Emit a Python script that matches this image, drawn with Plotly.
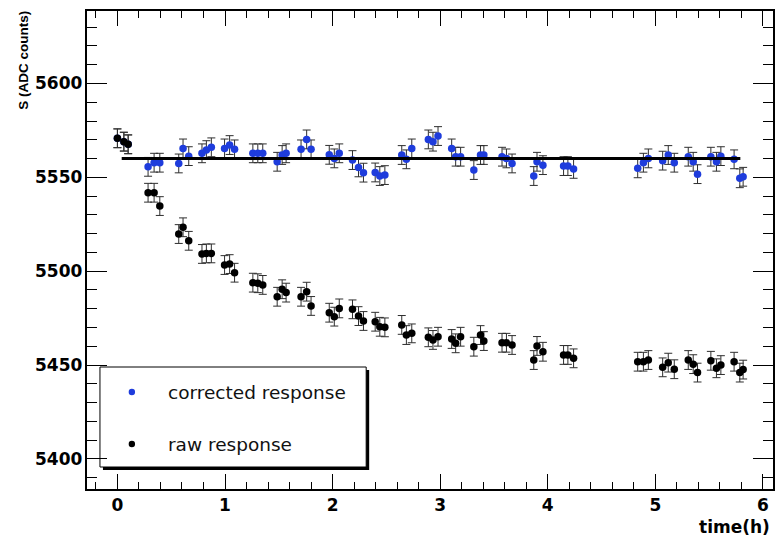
import plotly.graph_objects as go

# ---- data ----
time_h = [0.00, 0.06, 0.10, 0.285, 0.341, 0.394, 0.570, 0.610, 0.663, 0.786, 0.827, 0.873,
          0.996, 1.043, 1.089, 1.259, 1.305, 1.351, 1.485, 1.531, 1.568, 1.707, 1.759, 1.800,
          1.969, 2.016, 2.062, 2.185, 2.241, 2.287, 2.396, 2.439, 2.486, 2.643, 2.686, 2.736,
          2.890, 2.933, 2.980, 3.107, 3.144, 3.190, 3.313, 3.375, 3.406, 3.575, 3.616, 3.668,
          3.870, 3.900, 3.955, 4.147, 4.187, 4.240, 4.836, 4.889, 4.935, 5.068, 5.120, 5.176,
          5.306, 5.352, 5.392, 5.516, 5.568, 5.609, 5.732, 5.785, 5.816]

corrected = [5570.8, 5569.0, 5567.6, 5555.6, 5557.8, 5557.8, 5557.4, 5565.4, 5561.3, 5562.8, 5564.5, 5566.0,
             5565.4, 5567.2, 5564.9, 5562.8, 5562.8, 5562.8, 5558.3, 5561.9, 5562.8, 5564.9, 5570.2, 5564.9,
             5562.0, 5560.1, 5562.8, 5559.2, 5555.3, 5552.5, 5552.6, 5550.7, 5551.2, 5561.9, 5559.6, 5565.4,
             5570.2, 5569.0, 5572.0, 5565.4, 5561.0, 5561.0, 5553.9, 5561.9, 5561.9, 5561.0, 5560.1, 5557.4,
             5550.7, 5558.3, 5556.5, 5556.0, 5556.0, 5554.5, 5554.8, 5557.8, 5560.1, 5558.9, 5561.9, 5557.8,
             5561.0, 5558.3, 5551.7, 5561.0, 5558.3, 5561.3, 5559.6, 5549.5, 5550.3]

raw = [5570.8, 5569.0, 5567.6, 5541.8, 5541.8, 5534.7, 5519.8, 5523.4, 5516.2, 5509.2, 5509.5, 5509.5,
       5503.3, 5503.8, 5499.2, 5493.9, 5493.6, 5492.7, 5486.4, 5490.4, 5488.6, 5486.4, 5489.1, 5481.5,
       5477.9, 5475.8, 5480.2, 5479.7, 5476.1, 5473.5, 5473.1, 5470.4, 5470.1, 5471.4, 5466.0, 5466.9,
       5464.8, 5463.4, 5465.1, 5463.9, 5461.6, 5465.1, 5459.8, 5466.0, 5462.8, 5461.9, 5461.9, 5460.7,
       5452.7, 5460.2, 5457.1, 5455.4, 5455.4, 5453.6, 5451.8, 5451.8, 5452.7, 5448.8, 5451.3, 5447.8,
       5452.7, 5450.5, 5446.0, 5452.3, 5448.3, 5450.0, 5451.8, 5446.0, 5447.6]

err = [5.0] * len(time_h)

fit_t = [0.04, 5.79]
fit_level = [5560.0, 5560.0]

x_ticks = [0, 1, 2, 3, 4, 5, 6]
y_ticks = [5400, 5450, 5500, 5550, 5600]

series_names = ["corrected response", "raw response"]
blue = "#1e3cdc"
black = "#000000"

# ---- layout geometry (pixels) ----
W, H = 775, 540
L, R, T, B = 87, 0, 11, 51
PW, PH = W - L - R, H - T - B


def px_x(px):
    return (px - L) / PW


def px_y(py):
    return (H - B - py) / PH


fig = go.Figure()

fig.add_trace(go.Scatter(
    x=time_h, y=corrected, mode="markers", name=series_names[0],
    marker=dict(color=blue, size=7.5),
    error_y=dict(type="data", array=err, color="#2e2e2e", thickness=1, width=4),
    showlegend=False))

fig.add_trace(go.Scatter(
    x=fit_t, y=fit_level, mode="lines", line=dict(color="black", width=3),
    showlegend=False, hoverinfo="skip"))

fig.add_trace(go.Scatter(
    x=time_h, y=raw, mode="markers", name=series_names[1],
    marker=dict(color=black, size=7.5),
    error_y=dict(type="data", array=err, color="#2e2e2e", thickness=1, width=4),
    showlegend=False))

tickfont = dict(family="DejaVu Sans", size=17, color="black", weight="bold")

fig.update_xaxes(
    range=[(L - 117.5) / 107.9, (W - R - 117.5) / 107.9],
    tickvals=x_ticks, ticktext=[str(v) for v in x_ticks],
    ticks="inside", ticklen=15, tickwidth=1, tickcolor="black",
    showline=True, linecolor="black", linewidth=1.5, mirror="ticks",
    showgrid=False, zeroline=False, tickfont=tickfont,
    minor=dict(dtick=0.2, ticks="inside", ticklen=7, tickcolor="black", tickwidth=1, showgrid=False),
)
fig.update_yaxes(
    range=[5384.0, 5638.6],
    tickvals=y_ticks, showticklabels=False,
    ticks="inside", ticklen=20, tickwidth=1, tickcolor="black",
    showline=True, linecolor="black", linewidth=1.5, mirror="ticks",
    showgrid=False, zeroline=False,
    minor=dict(dtick=10, ticks="inside", ticklen=10, tickcolor="black", tickwidth=1, showgrid=False),
)

shapes = []
# legend shadow + box
shapes.append(dict(type="rect", xref="paper", yref="paper", layer="below",
                   x0=px_x(103), x1=px_x(370), y0=px_y(470), y1=px_y(370),
                   fillcolor="black", line=dict(width=0)))
shapes.append(dict(type="rect", xref="paper", yref="paper", layer="below",
                   x0=px_x(100), x1=px_x(367), y0=px_y(467), y1=px_y(367),
                   fillcolor="white", line=dict(color="black", width=1)))
for cy, col in [(392, blue), (444, black)]:
    shapes.append(dict(type="circle", xref="paper", yref="paper", layer="above",
                       xsizemode="pixel", ysizemode="pixel",
                       xanchor=px_x(132), yanchor=px_y(cy),
                       x0=-3.2, x1=3.2, y0=-3.2, y1=3.2,
                       fillcolor=col, line=dict(width=0)))

annotations = []
# y tick labels placed on the y scale, close to the axis (ROOT style)
for v in y_ticks:
    annotations.append(dict(xref="paper", yref="y", x=px_x(83.5), y=v,
                            xanchor="right", yanchor="middle", showarrow=False, text=str(v),
                            font=tickfont))
for cy, name in [(392, series_names[0]), (444, series_names[1])]:
    annotations.append(dict(xref="paper", yref="paper", x=px_x(166), y=px_y(cy),
                            xanchor="left", yanchor="middle", showarrow=False, text=name,
                            font=dict(family="DejaVu Sans", size=18.5, color="#111")))
annotations.append(dict(xref="paper", yref="paper", x=px_x(774), y=px_y(527),
                        xanchor="right", yanchor="middle", showarrow=False, text="time(h)",
                        font=dict(family="DejaVu Sans", size=17, color="black", weight="bold")))
annotations.append(dict(xref="paper", yref="paper", x=px_x(23), y=px_y(9),
                        xanchor="center", yanchor="top", showarrow=False, textangle=-90,
                        text="S (ADC counts)",
                        font=dict(family="Liberation Sans", size=13.5, color="black", weight="bold")))

fig.update_layout(
    width=W, height=H,
    margin=dict(l=L, r=R, t=T, b=B),
    paper_bgcolor="white", plot_bgcolor="rgba(0,0,0,0)",
    shapes=shapes, annotations=annotations, showlegend=False,
)

fig.write_html("out.html")
